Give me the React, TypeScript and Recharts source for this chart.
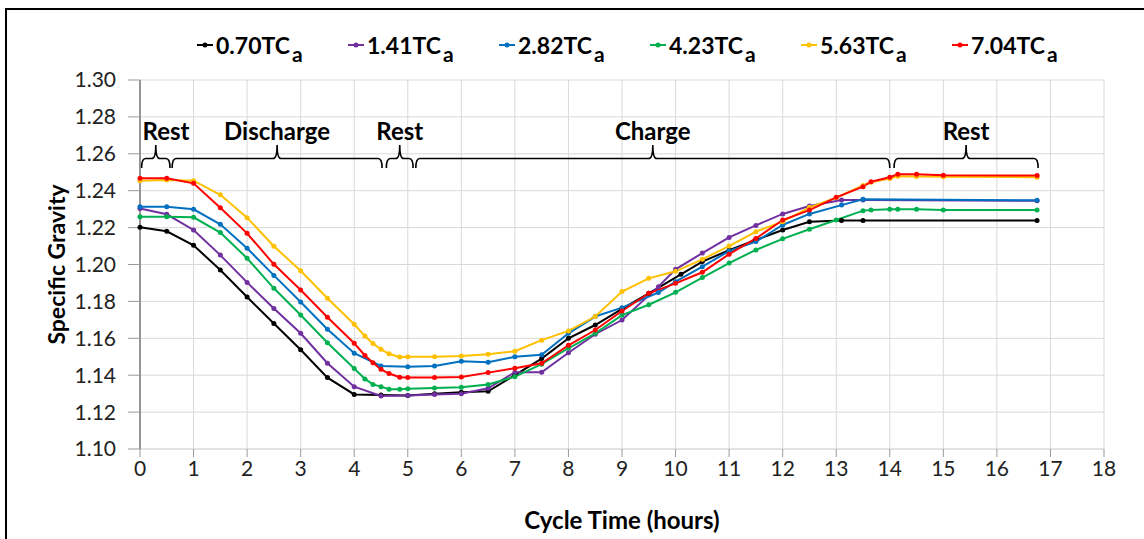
import { LineChart, Line, XAxis, YAxis, CartesianGrid, ReferenceArea } from 'recharts';

// cycle time (hours) and specific gravity for each current
const tA = [0, 0.5, 1, 1.5, 2, 2.5, 3, 3.5, 4, 4.5, 5, 5.5, 6, 6.5, 7, 7.5, 8, 8.5, 9, 9.5, 10.1, 10.5, 11, 11.5, 12, 12.5, 13.1, 13.5, 16.75];
const tB = [0, 0.5, 1, 1.5, 2, 2.5, 3, 3.5, 4, 4.5, 5, 5.5, 6, 6.5, 7, 7.5, 8, 8.5, 9, 9.68, 10, 10.5, 11, 11.5, 12, 12.5, 13.1, 13.5, 16.75];
const tC = [0, 0.5, 1, 1.5, 2, 2.5, 3, 3.5, 4, 4.2, 4.35, 4.5, 4.65, 4.85, 5, 5.5, 6, 6.5, 7, 7.5, 8, 8.5, 9, 9.5, 10, 10.5, 11, 11.5, 12, 12.5, 13, 13.5, 13.65, 14, 14.15, 14.5, 15, 16.75];

const sg070 = [1.2202, 1.218, 1.2104, 1.197, 1.1824, 1.168, 1.1538, 1.1387, 1.1296, 1.1293, 1.129, 1.130, 1.1307, 1.1313, 1.140, 1.149, 1.160, 1.1672, 1.176, 1.1844, 1.1947, 1.2016, 1.2077, 1.2133, 1.2187, 1.2232, 1.2238, 1.2238, 1.2238];
const sg141 = [1.2304, 1.2272, 1.2187, 1.2051, 1.1903, 1.1762, 1.1627, 1.1465, 1.1338, 1.1287, 1.129, 1.1296, 1.130, 1.1329, 1.1416, 1.1416, 1.1522, 1.1622, 1.1699, 1.188, 1.1974, 1.2062, 1.2147, 1.2212, 1.2274, 1.2317, 1.235, 1.235, 1.2345];
const sg282 = [1.2313, 1.2313, 1.2299, 1.2218, 1.2088, 1.1941, 1.1797, 1.1649, 1.1519, 1.145, 1.1446, 1.145, 1.1475, 1.147, 1.150, 1.1511, 1.1627, 1.1718, 1.1766, 1.1848, 1.1907, 1.1988, 1.2073, 1.2124, 1.2214, 1.2274, 1.2322, 1.2353, 1.2348];
const sg423 = [1.2259, 1.2259, 1.2256, 1.2173, 1.2034, 1.1871, 1.1726, 1.1576, 1.1436, 1.138, 1.135, 1.1338, 1.1324, 1.1324, 1.1327, 1.1331, 1.1335, 1.135, 1.1392, 1.146, 1.1546, 1.1627, 1.1726, 1.1782, 1.1849, 1.1929, 1.2008, 1.2079, 1.2139, 1.2191, 1.2241, 1.2292, 1.2295, 1.2299, 1.230, 1.2299, 1.2295, 1.2295];
const sg563 = [1.2454, 1.2458, 1.2454, 1.2378, 1.2254, 1.2099, 1.1966, 1.1817, 1.1676, 1.1612, 1.1572, 1.154, 1.1516, 1.1498, 1.150, 1.150, 1.1504, 1.1513, 1.153, 1.159, 1.164, 1.1718, 1.1853, 1.1925, 1.1963, 1.2028, 1.21, 1.2178, 1.2232, 1.231, 1.2362, 1.2428, 1.2446, 1.2466, 1.2478, 1.2477, 1.2476, 1.2473];
const sg704 = [1.2467, 1.2467, 1.244, 1.2308, 1.2169, 1.2001, 1.1862, 1.1714, 1.1573, 1.1507, 1.1467, 1.1432, 1.1409, 1.1389, 1.1387, 1.1387, 1.139, 1.1414, 1.1438, 1.1465, 1.1562, 1.1645, 1.1748, 1.1844, 1.1898, 1.1958, 1.2056, 1.2141, 1.2241, 1.2295, 1.2364, 1.2422, 1.2449, 1.2473, 1.2489, 1.2489, 1.2484, 1.2482];

const seriesNames = ['0.70', '1.41', '2.82', '4.23', '5.63', '7.04'];
const seriesColors = ['#000000', '#7030A0', '#0070C0', '#00B050', '#FFC000', '#FF0000'];
const seriesTimes = [tA, tB, tB, tC, tC, tC];
const seriesValues = [sg070, sg141, sg282, sg423, sg563, sg704];

// phase brackets along the top
const phaseNames = ['Rest', 'Discharge', 'Rest', 'Charge', 'Rest'];
const phaseStart = [0.03, 0.6, 4.6, 5.15, 14.08];
const phaseEnd = [0.56, 4.52, 5.1, 14.0, 16.77];

const xTicks = Array.from({ length: 19 }, (_, i) => i);
const yTicks = [1.1, 1.12, 1.14, 1.16, 1.18, 1.2, 1.22, 1.24, 1.26, 1.28, 1.3];

const FONT = 'Lato, "Open Sans", sans-serif';

const series = seriesNames.map((name, i) => ({
    name,
    color: seriesColors[i],
    data: seriesTimes[i].map((t, j) => ({ x: t, y: seriesValues[i][j] })),
}));

const Brace = (props: any) => {
    const { x, y, width, height, label, first } = props;
    const bar = y + height * 0.59;
    const mid = x + width / 2;
    const r = 4;
    const d = `M${x},${y + height} Q${x},${bar} ${x + r},${bar} L${mid - r},${bar} Q${mid},${bar} ${mid},${y} Q${mid},${bar} ${mid + r},${bar} L${x + width - r},${bar} Q${x + width},${bar} ${x + width},${y + height}`;
    return (
        <g>
            <path d={d} fill="none" stroke="#000" strokeWidth={1.6} />
            <text
                x={first ? x + 1 : mid}
                y={y - 5}
                textAnchor={first ? 'start' : 'middle'}
                fontFamily={FONT}
                fontWeight={700}
                fontSize={24}
                fill="#000"
            >
                {label}
            </text>
        </g>
    );
};

const ChartLegend = () => (
    <div style={{ position: 'absolute', top: 33, left: 197, display: 'flex', fontFamily: FONT }}>
        {series.map((s) => (
            <div key={s.name} style={{ width: 151, display: 'flex', alignItems: 'center' }}>
                <svg width={17} height={10} style={{ marginRight: 2 }}>
                    <line x1={0} y1={5} x2={16} y2={5} stroke={s.color} strokeWidth={2} />
                    <circle cx={8} cy={5} r={2.5} fill={s.color} />
                </svg>
                <span style={{ fontWeight: 700, fontSize: 23, color: '#000', lineHeight: '24px' }}>
                    {s.name}TC<sub style={{ fontSize: 21, verticalAlign: -8, lineHeight: 0, marginLeft: 2 }}>a</sub>
                </span>
            </div>
        ))}
    </div>
);

export default function App() {
    return (
        <div style={{ position: 'absolute', left: 0, top: 0, width: 1144, height: 539, overflow: 'hidden', background: '#fff' }}>
            <div style={{ position: 'absolute', left: 5, top: 8, width: 1160, height: 560, border: '2px solid #000', boxSizing: 'border-box' }} />
            <div style={{ position: 'absolute', left: 0, top: 0 }}>
                <LineChart width={1144} height={539} margin={{ top: 80, right: 40, bottom: 0, left: 0 }}>
                    <CartesianGrid stroke="#d9d9d9" strokeWidth={1} />
                    <XAxis
                        type="number"
                        dataKey="x"
                        domain={[0, 18]}
                        ticks={xTicks}
                        interval={0}
                        height={90}
                        tickSize={8}
                        tickMargin={4}
                        tick={{ fontFamily: FONT, fontSize: 21, fill: '#222' }}
                        tickLine={{ stroke: '#999' }}
                        axisLine={{ stroke: '#d9d9d9' }}
                        label={(p: any) => {
                            const vb = p.viewBox;
                            return (
                                <text x={vb.x + vb.width / 2} y={vb.y + 80} textAnchor="middle" fontFamily={FONT} fontWeight={700} fontSize={24} fill="#000">
                                    Cycle Time (hours)
                                </text>
                            );
                        }}
                    />
                    <YAxis
                        type="number"
                        domain={[1.1, 1.3]}
                        ticks={yTicks}
                        interval={0}
                        width={140}
                        tickSize={12}
                        tickMargin={12}
                        tickFormatter={(v: number) => v.toFixed(2)}
                        tick={{ fontFamily: FONT, fontSize: 21, fill: '#222' }}
                        tickLine={{ stroke: '#999' }}
                        axisLine={{ stroke: '#404040' }}
                        label={(p: any) => {
                            const vb = p.viewBox;
                            const cx = 56;
                            const cy = vb.y + vb.height / 2;
                            return (
                                <text x={cx} y={cy} transform={`rotate(-90 ${cx} ${cy})`} textAnchor="middle" dominantBaseline="central" fontFamily={FONT} fontWeight={700} fontSize={23} fill="#000">
                                    Specific Gravity
                                </text>
                            );
                        }}
                    />
                    {phaseNames.map((name, i) => (
                        <ReferenceArea
                            key={`phase-${i}`}
                            x1={phaseStart[i]}
                            x2={phaseEnd[i]}
                            y1={1.2523}
                            y2={1.2648}
                            ifOverflow="visible"
                            shape={(p: any) => <Brace {...p} label={name} first={i === 0} />}
                        />
                    ))}
                    {series.map((s) => (
                        <Line
                            key={s.name}
                            data={s.data}
                            dataKey="y"
                            name={s.name}
                            stroke={s.color}
                            strokeWidth={2}
                            dot={{ r: 2.5, fill: s.color, stroke: s.color, strokeWidth: 0 }}
                            activeDot={false}
                            isAnimationActive={false}
                            type="linear"
                        />
                    ))}
                </LineChart>
            </div>
            <ChartLegend />
        </div>
    );
}
